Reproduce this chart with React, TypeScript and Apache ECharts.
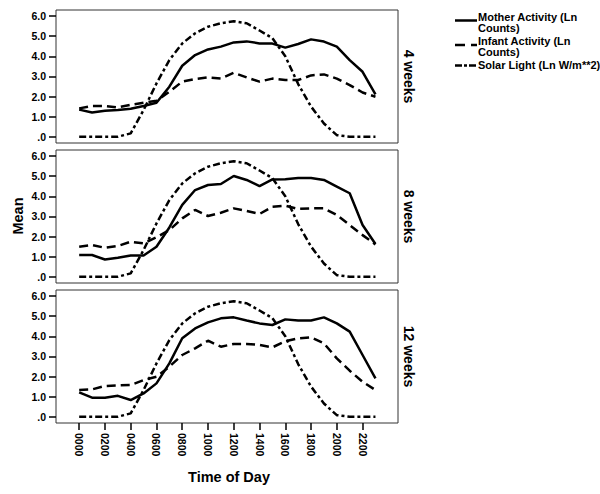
import React, { useEffect, useRef } from "react";
import * as echarts from "echarts";

const hours = [0, 1, 2, 3, 4, 5, 6, 7, 8, 9, 10, 11, 12, 13, 14, 15, 16, 17, 18, 19, 20, 21, 22, 23];
const xTickHours = [0, 2, 4, 6, 8, 10, 12, 14, 16, 18, 20, 22];
const xTickLabels = ["0000", "0200", "0400", "0600", "0800", "1000", "1200", "1400", "1600", "1800", "2000", "2200"];
const yTickValues = [0, 1, 2, 3, 4, 5, 6];
const yTickLabels = [".0", "1.0", "2.0", "3.0", "4.0", "5.0", "6.0"];
const panelNames = ["4 weeks", "8 weeks", "12 weeks"];
const seriesNames = ["Mother Activity (Ln Counts)", "Infant Activity (Ln Counts)", "Solar Light (Ln W/m**2)"];

const mother4 = [1.35, 1.21, 1.29, 1.33, 1.39, 1.53, 1.69, 2.49, 3.53, 4.06, 4.34, 4.48, 4.69, 4.74, 4.64, 4.63, 4.43, 4.61, 4.84, 4.73, 4.48, 3.81, 3.23, 2.11];
const infant4 = [1.41, 1.53, 1.53, 1.46, 1.59, 1.69, 1.79, 2.24, 2.74, 2.87, 2.95, 2.9, 3.18, 2.95, 2.74, 2.89, 2.82, 2.82, 3.05, 3.1, 2.89, 2.57, 2.2, 1.99];
const mother8 = [1.08, 1.08, 0.86, 0.95, 1.06, 1.06, 1.49, 2.45, 3.57, 4.31, 4.56, 4.61, 5.01, 4.81, 4.51, 4.84, 4.85, 4.91, 4.91, 4.81, 4.48, 4.15, 2.57, 1.63];
const infant8 = [1.49, 1.58, 1.44, 1.53, 1.74, 1.66, 1.96, 2.32, 2.9, 3.32, 3.02, 3.18, 3.4, 3.27, 3.12, 3.48, 3.53, 3.37, 3.4, 3.4, 3.07, 2.57, 2.07, 1.61];
const mother12 = [1.21, 0.95, 0.95, 1.04, 0.83, 1.16, 1.66, 2.65, 3.9, 4.39, 4.69, 4.89, 4.94, 4.78, 4.64, 4.56, 4.84, 4.78, 4.78, 4.94, 4.64, 4.23, 3.07, 1.91];
const infant12 = [1.33, 1.36, 1.53, 1.56, 1.58, 1.82, 1.99, 2.49, 3.07, 3.4, 3.78, 3.48, 3.62, 3.62, 3.57, 3.45, 3.75, 3.9, 3.95, 3.65, 2.9, 2.29, 1.74, 1.33];
const solar4 = [0, 0, 0, 0, 0.17, 1.33, 2.65, 3.81, 4.64, 5.14, 5.47, 5.64, 5.74, 5.64, 5.28, 4.9, 4.0, 2.62, 1.5, 0.66, 0.08, 0, 0, 0];
const solar8 = [0, 0, 0, 0, 0.17, 1.33, 2.65, 3.81, 4.64, 5.14, 5.47, 5.64, 5.74, 5.64, 5.28, 4.9, 4.0, 2.62, 1.5, 0.66, 0.08, 0, 0, 0];
const solar12 = [0, 0, 0, 0, 0.17, 1.33, 2.65, 3.81, 4.64, 5.14, 5.47, 5.64, 5.74, 5.64, 5.28, 4.9, 4.0, 2.62, 1.5, 0.66, 0.08, 0, 0, 0];

const panels = [
  [mother4, infant4, solar4],
  [mother8, infant8, solar8],
  [mother12, infant12, solar12],
];

const FONT = "'Liberation Sans', Arial, sans-serif";
const lineTypes: any[] = ["solid", [9, 5], [7, 3, 3, 3]];

export default function App() {
  const ref = useRef<HTMLDivElement>(null);
  useEffect(() => {
    if (!ref.current) return;
    const chart = echarts.init(ref.current, undefined, { renderer: "svg" });
    const gridTops = [10, 150, 290];
    const grids = gridTops.map((t) => ({
      left: 56,
      top: t,
      width: 342,
      height: 133,
      show: true,
      borderColor: "#333",
      borderWidth: 1,
      backgroundColor: "#fff",
    }));
    const xAxes = gridTops.map((_, i) => ({
      type: "value",
      gridIndex: i,
      position: "bottom",
      min: -1.8,
      max: 24.75,
      axisLine: { show: false, onZero: false },
      splitLine: { show: false },
      axisTick: {
        show: i === 2,
        length: 7,
        customValues: xTickHours,
        lineStyle: { color: "#000", width: 1.5 },
      },
      axisLabel: {
        show: i === 2,
        customValues: xTickHours,
        rotate: -90,
        margin: 10,
        fontFamily: FONT,
        fontWeight: "bold",
        fontSize: 10.5,
        color: "#000",
        formatter: (v: number) => xTickLabels[xTickHours.indexOf(v)] ?? "",
      },
    }));
    const yAxes = gridTops.map((_, i) => ({
      type: "value",
      gridIndex: i,
      position: "left",
      min: -0.31,
      max: 6.3,
      axisLine: { show: false, onZero: false },
      splitLine: { show: false },
      axisTick: { show: true, length: 7, customValues: yTickValues, lineStyle: { color: "#000", width: 1.5 } },
      axisLabel: {
        customValues: yTickValues,
        margin: 10,
        fontFamily: FONT,
        fontWeight: "bold",
        fontSize: 10.5,
        color: "#000",
        formatter: (v: number) => yTickLabels[yTickValues.indexOf(v)] ?? "",
      },
    }));
    const series: any[] = [];
    panels.forEach((p, gi) => {
      p.forEach((vals, si) => {
        series.push({
          type: "line",
          name: seriesNames[si],
          xAxisIndex: gi,
          yAxisIndex: gi,
          data: hours.map((h, k) => [h, vals[k]]),
          showSymbol: false,
          symbol: "none",
          lineStyle: { color: "#000", width: 2.5, type: lineTypes[si] },
          z: 3,
        });
      });
    });

    const txt = (x: number, y: number, text: string, extra: any = {}) => ({
      type: "text",
      x,
      y,
      silent: true,
      style: {
        text,
        fontFamily: FONT,
        fontWeight: "bold",
        fontSize: 14,
        fill: "#000",
        textAlign: "center",
        textVerticalAlign: "middle",
        ...extra,
      },
    });

    const graphics: any[] = [];
    panelNames.forEach((n, i) => {
      const g: any = txt(409, gridTops[i] + 66.5, n);
      g.rotation = -Math.PI / 2;
      graphics.push(g);
    });
    const mean: any = txt(18, 216, "Mean", { fontSize: 14.5 });
    mean.rotation = Math.PI / 2;
    graphics.push(mean);
    graphics.push(txt(229, 477, "Time of Day", { fontSize: 14.5 }));

    const legendItems = [
      { lineY: 20.5, textY: 11.5, text: "Mother Activity (Ln\nCounts)" },
      { lineY: 45, textY: 36, text: "Infant Activity (Ln\nCounts)" },
      { lineY: 65.5, textY: 59.5, text: "Solar Light (Ln W/m**2)" },
    ];
    legendItems.forEach((it, i) => {
      graphics.push({
        type: "line",
        silent: true,
        shape: { x1: 455, y1: it.lineY, x2: 477, y2: it.lineY },
        style: {
          stroke: "#000",
          lineWidth: 2.5,
          lineDash: i === 0 ? null : i === 1 ? [10, 6] : [7, 2, 3, 2],
        },
      });
      graphics.push({
        type: "text",
        x: 478,
        y: it.textY,
        silent: true,
        style: {
          text: it.text,
          fontFamily: FONT,
          fontWeight: "bold",
          fontSize: 11,
          lineHeight: 10.8,
          fill: "#000",
          textAlign: "left",
          textVerticalAlign: "top",
        },
      });
    });

    chart.setOption({
      animation: false,
      backgroundColor: "#fff",
      grid: grids,
      xAxis: xAxes,
      yAxis: yAxes,
      series,
      graphic: graphics,
    });
    return () => chart.dispose();
  }, []);
  return <div ref={ref} style={{ position: "absolute", left: 0, top: 0, width: 600, height: 494 }} />;
}
